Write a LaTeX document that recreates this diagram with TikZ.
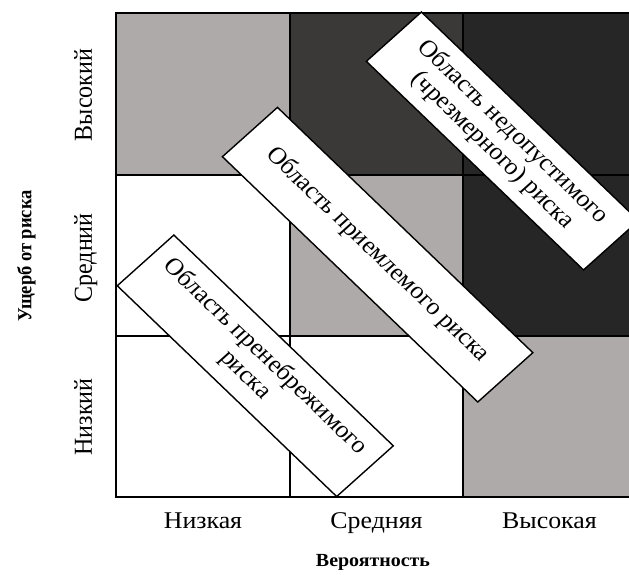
\documentclass[tikz,border=0pt]{standalone}
\usepackage{fontspec}
\setmainfont{Liberation Serif}
\definecolor{lgray}{HTML}{AEAAA9}
\definecolor{dgray}{HTML}{3B3938}
\definecolor{ddgray}{HTML}{262626}
\begin{document}
\begin{tikzpicture}[x=1pt,y=1pt,
  lbl/.style={font=\fontsize{24}{27}\selectfont, inner sep=0pt, transform shape, anchor=base},
  ttl/.style={font=\fontsize{18.5}{21}\selectfont\bfseries, inner sep=0pt, transform shape, anchor=base},
  zone/.style={draw, line width=1.4pt, fill=white, inner sep=0pt, align=center,
    transform shape, rotate=-46, font=\fontsize{24}{26}\selectfont}]
\clip (0,0) rectangle (629,575);
\fill[white] (0,0) rectangle (629,575);
% cells
\fill[lgray] (116,400) rectangle (290,562);
\fill[dgray] (290,400) rectangle (463,562);
\fill[ddgray] (463,400) rectangle (636,562);
\fill[white] (116,239) rectangle (290,400);
\fill[lgray] (290,239) rectangle (463,400);
\fill[ddgray] (463,239) rectangle (636,400);
\fill[white] (116,78) rectangle (290,239);
\fill[white] (290,78) rectangle (463,239);
\fill[lgray] (463,78) rectangle (636,239);
% grid lines
\draw[line width=1.3pt] (116,78) rectangle (636,562);
\draw[line width=1.3pt] (290,78) -- (290,562) (463,78) -- (463,562)
  (116,239) -- (636,239) (116,400) -- (636,400);
\begin{scope}[xscale=1.078]
% zones
\node[zone, minimum width=341pt, minimum height=71pt] (acc) at (350.3,320.3) {Область приемлемого риска};
\node[zone, minimum width=293pt, minimum height=73pt] (neg) at (236.8,209.2) {Область пренебрежимого\\риска};
\node[zone, minimum width=290pt, minimum height=71pt] (unacc) at (466.1,434) {Область недопустимого\\(чрезмерного) риска};
% axis labels
\node[lbl] (pl) at (188.3,46.5) {Низкая};
\node[lbl] (pm) at (349.3,46.5) {Средняя};
\node[lbl] (ph) at (509.7,46.5) {Высокая};
\node[ttl] (pt) at (346,8) {Вероятность};
\node[lbl, rotate=90] (dh) at (85.3,480) {Высокий};
\node[lbl, rotate=90] (dm) at (85.3,317) {Средний};
\node[lbl, rotate=90] (dl) at (85.3,158) {Низкий};
\node[ttl, rotate=90] (dt) at (29,319) {Ущерб от риска};
\end{scope}
\end{tikzpicture}
\end{document}
